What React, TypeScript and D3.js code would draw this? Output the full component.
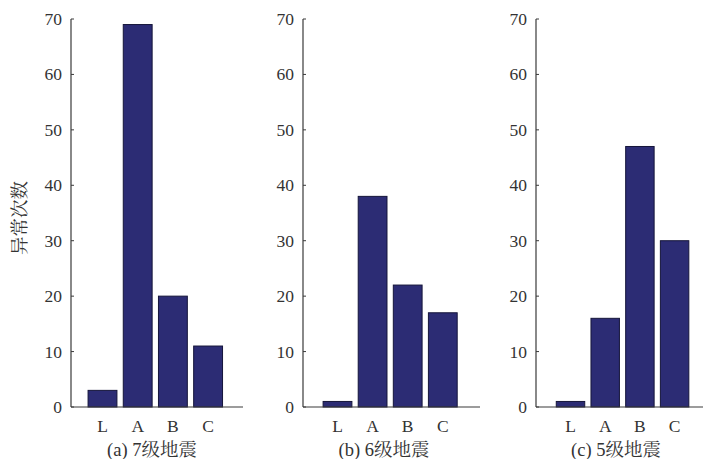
import React from "react";
import * as d3 from "d3";

const categories = ["L", "A", "B", "C"];
const valuesA = [3, 69, 20, 11];
const valuesB = [1, 38, 22, 17];
const valuesC = [1, 16, 47, 30];
const titles = ["(a) 7级地震", "(b) 6级地震", "(c) 5级地震"];
const yTicks = [0, 10, 20, 30, 40, 50, 60, 70];
const yLabel = "异常次数";

const panels = [
  { values: valuesA, title: titles[0], left: 71, c1: 102.5, step: 35.2, right: 243, titleX: 152 },
  { values: valuesB, title: titles[1], left: 303, c1: 337.5, step: 35.1, right: 480, titleX: 384 },
  { values: valuesC, title: titles[2], left: 536, c1: 570.5, step: 34.7, right: 703, titleX: 616 },
];

const FONT = "'Liberation Serif', 'Times New Roman', 'Noto Serif CJK SC', 'Noto Sans CJK SC', serif";
const AXIS = "#3a3a3a";
const TEXT = "#333";

export default function App() {
  const y = d3.scaleLinear().domain([0, 70]).range([407, 19]);
  return (
    <svg width={706} height={459} style={{ position: "absolute", left: 0, top: 0, background: "#fff" }} fontFamily={FONT}>
      <text
        transform={`translate(18,218) rotate(-90)`}
        textAnchor="middle"
        dominantBaseline="central"
        fontSize={18.5}
        fill={TEXT}
        fontFamily="'Noto Serif CJK SC', 'Noto Sans CJK SC', serif"
      >
        {yLabel}
      </text>
      {panels.map((p, pi) => {
        const x = d3.scaleLinear().domain([0, 3]).range([p.c1, p.c1 + 3 * p.step]);
        const bw = p.step * 0.82;
        return (
          <g key={pi}>
            {p.values.map((v, i) => (
              <rect
                key={i}
                x={x(i) - bw / 2}
                y={y(v)}
                width={bw}
                height={y(0) - y(v)}
                fill="#2c2c74"
                stroke="#15153a"
                strokeWidth={1}
              />
            ))}
            <line x1={p.left} x2={p.left} y1={y(70)} y2={y(0)} stroke={AXIS} strokeWidth={1.2} />
            <line x1={p.left} x2={p.right} y1={y(0)} y2={y(0)} stroke={AXIS} strokeWidth={1.2} />
            {yTicks.map((t) => (
              <g key={t}>
                <line x1={p.left} x2={p.left + 3} y1={y(t)} y2={y(t)} stroke={AXIS} strokeWidth={1} />
                <text
                  x={p.left - 9}
                  y={y(t)}
                  textAnchor="end"
                  dominantBaseline="central"
                  fontSize={17.5}
                  fill={TEXT}
                >
                  {t}
                </text>
              </g>
            ))}
            {categories.map((c, i) => (
              <text
                key={c}
                x={x(i)}
                y={426}
                textAnchor="middle"
                dominantBaseline="central"
                fontSize={17.5}
                fill={TEXT}
              >
                {c}
              </text>
            ))}
            <text x={p.titleX} y={450} textAnchor="middle" dominantBaseline="central" fontSize={18.5} fill={TEXT}>
              {p.title}
            </text>
          </g>
        );
      })}
    </svg>
  );
}
